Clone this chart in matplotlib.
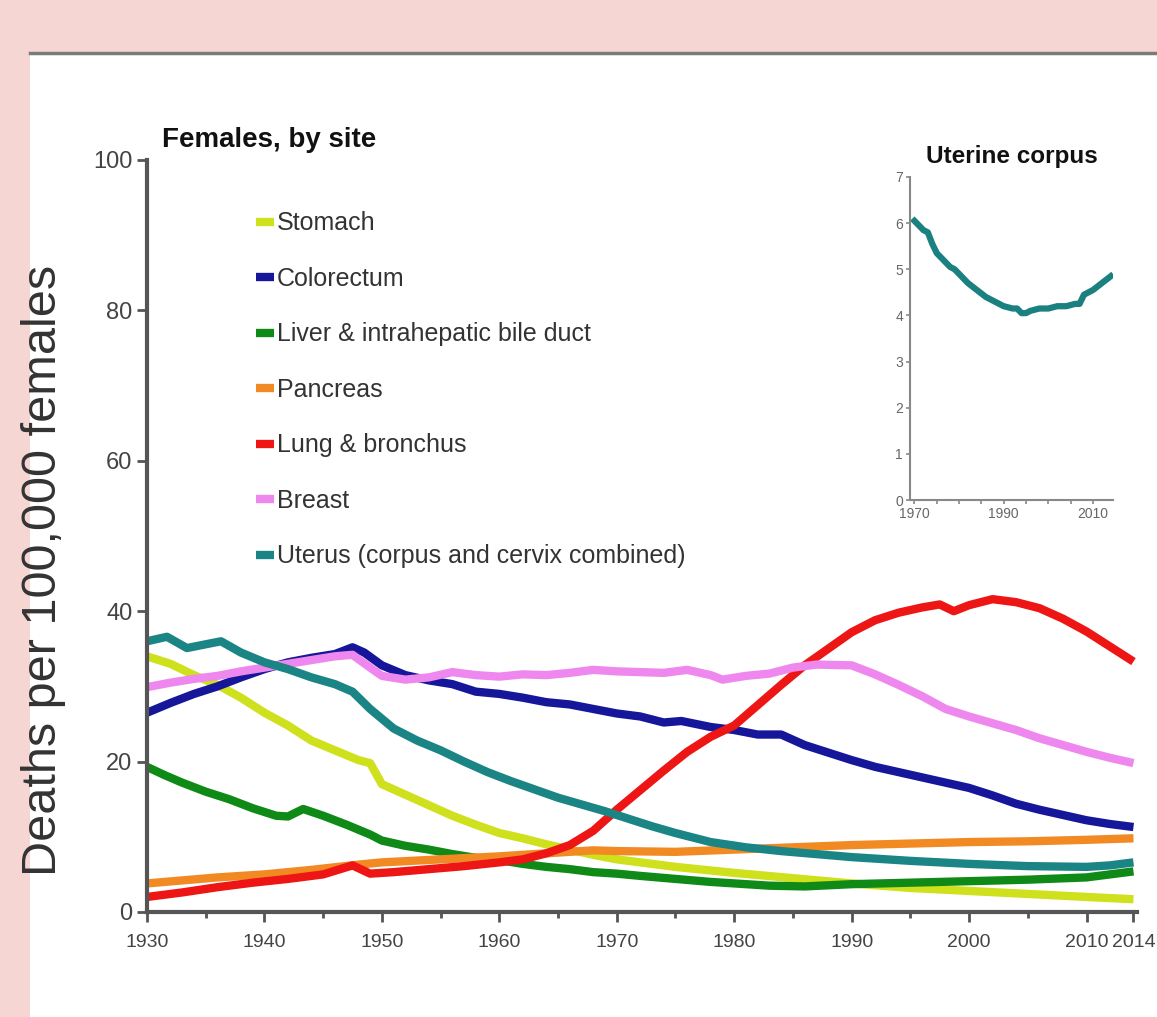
import matplotlib

matplotlib.use("Agg")
import matplotlib.pyplot as plt  # noqa: E402
from matplotlib.patches import Rectangle  # noqa: E402
from matplotlib.lines import Line2D  # noqa: E402

plt.rcParams["font.family"] = ["Liberation Sans", "DejaVu Sans"]

# --- Data (age-adjusted deaths per 100,000 females) ---
stomach_years = [1930, 1932, 1934, 1936, 1938, 1940, 1942, 1944, 1946, 1948, 1949, 1950,
                 1952, 1954, 1956, 1958, 1960, 1962, 1964, 1966, 1968, 1970, 1975, 1980,
                 1985, 1990, 1995, 2000, 2005, 2010, 2014]
stomach = [34.0, 33.0, 31.5, 30.2, 28.5, 26.5, 24.8, 22.8, 21.5, 20.2, 19.8, 17.0,
           15.6, 14.2, 12.8, 11.6, 10.5, 9.8, 9.0, 8.3, 7.6, 7.0, 6.0, 5.2,
           4.5, 3.8, 3.2, 2.8, 2.4, 2.0, 1.7]

colorectum_years = [1930, 1932, 1934, 1936, 1938, 1940, 1942, 1944, 1946, 1947.5, 1948.5,
                    1950, 1952, 1954, 1956, 1958, 1960, 1962, 1964, 1966, 1968, 1970,
                    1972, 1974, 1975.5, 1978, 1980, 1982, 1984, 1986, 1988, 1990, 1992,
                    1994, 1996, 1998, 2000, 2002, 2004, 2006, 2008, 2010, 2012, 2014]
colorectum = [26.5, 27.8, 29.0, 30.0, 31.2, 32.3, 33.2, 33.8, 34.3, 35.2, 34.5,
              32.8, 31.5, 30.8, 30.3, 29.3, 29.0, 28.5, 27.9, 27.6, 27.0, 26.4,
              26.0, 25.2, 25.4, 24.6, 24.2, 23.6, 23.6, 22.2, 21.2, 20.2, 19.3,
              18.6, 17.9, 17.2, 16.5, 15.5, 14.4, 13.6, 12.9, 12.2, 11.7, 11.3]

liver_years = [1930, 1931.5, 1933, 1935, 1937, 1939, 1941, 1942, 1943.3, 1945, 1947, 1949,
               1950, 1952, 1954, 1956, 1958, 1960, 1962, 1964, 1966, 1968, 1970, 1972,
               1975, 1978, 1980, 1983, 1986, 1990, 1995, 2000, 2005, 2010, 2012, 2014]
liver = [19.3, 18.2, 17.2, 16.0, 15.0, 13.8, 12.8, 12.7, 13.7, 12.8, 11.6, 10.3,
         9.5, 8.8, 8.3, 7.7, 7.2, 6.9, 6.4, 6.0, 5.7, 5.3, 5.1, 4.8,
         4.4, 4.0, 3.8, 3.5, 3.4, 3.7, 3.9, 4.1, 4.3, 4.6, 5.0, 5.4]

pancreas_years = [1930, 1933, 1936, 1940, 1944, 1948, 1950, 1955, 1960, 1965, 1968, 1970,
                  1975, 1980, 1985, 1990, 1995, 2000, 2005, 2010, 2014]
pancreas = [3.8, 4.2, 4.6, 5.0, 5.6, 6.3, 6.6, 7.0, 7.4, 7.9, 8.2, 8.1,
            8.0, 8.3, 8.6, 8.9, 9.1, 9.3, 9.4, 9.6, 9.8]

lung_years = [1930, 1933, 1936, 1939, 1942, 1945, 1947.5, 1949, 1951, 1954, 1957, 1960,
              1962, 1964, 1966, 1968, 1970, 1972, 1974, 1976, 1978, 1980, 1982, 1984,
              1986, 1988, 1990, 1992, 1994, 1996, 1997.5, 1998.7, 2000, 2002, 2004,
              2006, 2008, 2010, 2012, 2014]
lung = [2.0, 2.6, 3.3, 3.9, 4.4, 5.0, 6.2, 5.1, 5.3, 5.7, 6.1, 6.6,
        7.0, 7.8, 8.9, 10.8, 13.6, 16.2, 18.8, 21.3, 23.3, 24.8, 27.5, 30.2,
        32.8, 35.0, 37.2, 38.8, 39.8, 40.5, 40.9, 40.0, 40.8, 41.6, 41.2,
        40.4, 39.0, 37.3, 35.3, 33.3]

breast_years = [1930, 1932, 1934, 1936, 1938, 1940, 1942, 1944, 1946, 1947.5, 1949, 1950,
                1952, 1954, 1956, 1958, 1960, 1962, 1964, 1966, 1968, 1970, 1972, 1974,
                1976, 1978, 1979, 1981, 1983, 1985, 1987, 1990, 1992, 1994, 1996, 1998,
                2000, 2002, 2004, 2006, 2008, 2010, 2012, 2014]
breast = [29.9, 30.5, 31.0, 31.4, 32.0, 32.5, 33.0, 33.5, 34.0, 34.2, 32.5, 31.4,
          30.9, 31.2, 31.9, 31.5, 31.3, 31.6, 31.5, 31.8, 32.2, 32.0, 31.9, 31.8,
          32.2, 31.5, 30.9, 31.4, 31.7, 32.5, 32.9, 32.8, 31.6, 30.2, 28.7, 27.0,
          26.0, 25.1, 24.2, 23.1, 22.2, 21.3, 20.5, 19.8]

uterus_years = [1930, 1931.7, 1933.4, 1935, 1936.3, 1938, 1940, 1942, 1944, 1946, 1947.5,
                1949, 1951, 1953, 1955, 1957, 1959, 1961, 1963, 1965, 1967, 1969, 1971,
                1973, 1975, 1978, 1981, 1984, 1987, 1990, 1995, 2000, 2005, 2010, 2012,
                2014]
uterus = [36.0, 36.6, 35.1, 35.6, 36.0, 34.5, 33.2, 32.3, 31.2, 30.3, 29.3,
          27.0, 24.4, 22.8, 21.5, 20.0, 18.6, 17.4, 16.3, 15.2, 14.3, 13.4, 12.4,
          11.4, 10.5, 9.3, 8.6, 8.1, 7.7, 7.3, 6.8, 6.4, 6.1, 6.0, 6.2, 6.6]

corpus_years = [1970, 1971, 1972, 1973, 1974, 1975, 1976, 1977, 1978, 1979, 1980, 1982,
                1984, 1986, 1988, 1990, 1992, 1993, 1994, 1995, 1996, 1998, 2000, 2002,
                2004, 2006, 2007, 2008, 2010, 2012, 2014]
corpus = [6.05, 5.95, 5.85, 5.8, 5.55, 5.35, 5.25, 5.15, 5.05, 5.0, 4.9, 4.7,
          4.55, 4.4, 4.3, 4.2, 4.15, 4.15, 4.05, 4.05, 4.1, 4.15, 4.15, 4.2,
          4.2, 4.25, 4.25, 4.45, 4.55, 4.7, 4.85]

series = [
    ("Stomach", stomach_years, stomach, "#cfe01c"),
    ("Colorectum", colorectum_years, colorectum, "#16169a"),
    ("Liver & intrahepatic bile duct", liver_years, liver, "#0f8a17"),
    ("Pancreas", pancreas_years, pancreas, "#f28a24"),
    ("Lung & bronchus", lung_years, lung, "#ee1515"),
    ("Breast", breast_years, breast, "#ee88ee"),
    ("Uterus (corpus and cervix combined)", uterus_years, uterus, "#1b8585"),
]

main_xticks = [1930, 1940, 1950, 1960, 1970, 1980, 1990, 2000, 2010, 2014]
main_yticks = [0, 20, 40, 60, 80, 100]
inset_xticks = [1970, 1990, 2010]
inset_yticks = [0, 1, 2, 3, 4, 5, 6, 7]

GREY = "#555555"
PINK = "#f5d6d3"

fig = plt.figure(figsize=(11.57, 10.17), dpi=100)
fig.patch.set_facecolor(PINK)

# white slide panel with a grey rule on top (kept behind the axes)
fig.patches.append(Rectangle((30 / 1157, 0), 1 - 30 / 1157, 1 - 54 / 1017,
                             transform=fig.transFigure, facecolor="white",
                             edgecolor="none", zorder=-5))
fig.add_artist(Line2D([30 / 1157, 1], [1 - 53 / 1017] * 2, transform=fig.transFigure,
                      color="#7a7a7a", linewidth=2.5, zorder=-4))

# --- Main panel ---
ax = fig.add_axes([147 / 1157, 1 - 912 / 1017, 990 / 1157, 752 / 1017])
ax.set_facecolor("none")
for name, yrs, vals, col in series:
    ax.plot(yrs, vals, color=col, linewidth=6, solid_capstyle="butt", label=name)

ax.set_xlim(1930, 2014.3)
ax.set_ylim(0, 100)
ax.set_xticks(main_xticks)
ax.set_xticks(list(range(1935, 2014, 5)), minor=True)
ax.set_yticks(main_yticks)
ax.tick_params(axis="both", which="major", direction="out", length=7, width=2,
               color=GREY, labelcolor="#444444", labelsize=17)
ax.tick_params(axis="x", which="major", labelsize=14)
ax.tick_params(axis="x", which="minor", direction="out", length=4, width=2, color=GREY)
ax.tick_params(axis="x", pad=9)
for side in ("top", "right"):
    ax.spines[side].set_visible(False)
for side in ("left", "bottom"):
    ax.spines[side].set_color(GREY)
    ax.spines[side].set_linewidth(3)

leg = ax.legend(loc="upper left", bbox_to_anchor=(0.1, 0.945), frameon=False,
                handlelength=0.7, handletextpad=0.15, labelspacing=1.26,
                fontsize=18, borderaxespad=0)
for h in leg.get_lines():
    h.set_linewidth(6)
for t in leg.get_texts():
    t.set_color("#333333")

fig.text(162 / 1157, 1 - 140 / 1017, "Females, by site", fontsize=20,
         fontweight="bold", color="#111111", va="center", ha="left")
fig.text(44 / 1157, 1 - 570 / 1017, "Deaths per 100,000 females", rotation=90,
         fontsize=35, color="#333333", va="center", ha="center")

# --- Inset: uterine corpus ---
ins = fig.add_axes([910 / 1157, 1 - 500 / 1017, 203 / 1157, 323 / 1017])
ins.set_facecolor("none")
ins.plot(corpus_years, corpus, color="#1b8080", linewidth=4.5)
ins.set_xlim(1969, 2014.5)
ins.set_ylim(0, 7)
ins.set_xticks(inset_xticks)
ins.set_xticks(list(range(1975, 2014, 5)), minor=True)
ins.set_yticks(inset_yticks)
ins.tick_params(axis="both", which="both", direction="out", length=3, width=1.2,
                color="#888888", labelcolor="#666666", labelsize=10, pad=2)
for side in ("top", "right"):
    ins.spines[side].set_visible(False)
for side in ("left", "bottom"):
    ins.spines[side].set_color("#888888")
    ins.spines[side].set_linewidth(1.5)
ins.set_title("Uterine corpus", fontsize=17.5, fontweight="bold", color="#111111",
              pad=10)

fig.savefig("out.png", dpi=100, facecolor=fig.get_facecolor())
